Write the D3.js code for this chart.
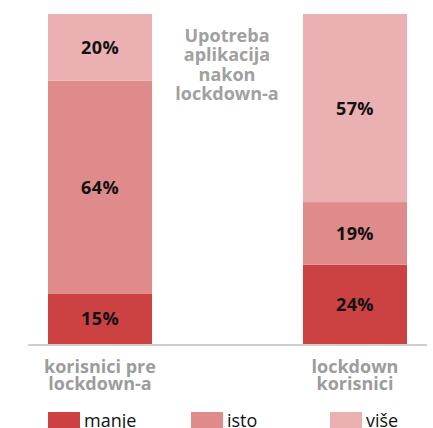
<!DOCTYPE html>
<html>
<head>
<meta charset="utf-8">
<script src="https://cdn.jsdelivr.net/npm/d3@7"></script>
<style>
  body { margin: 0; background: #fff; }
  svg { display: block; font-family: "Open Sans", sans-serif; }
</style>
</head>
<body>
<div id="chart"></div>
<script>
// categories (groups on the x axis)
const groups = ["korisnici pre|lockdown-a", "lockdown|korisnici"];
// series, bottom to top
const seriesKeys = ["manje", "isto", "više"];
const manje = [15, 24];
const isto = [64, 19];
const vise = [20, 57];
const titleLines = ["Upotreba", "aplikacija", "nakon", "lockdown-a"];

const colors = ["#cc4242", "#df8a8b", "#ebb1b2"];

const width = 433, height = 428;
const margin = { top: 14, bottom: 84 };

const data = groups.map((g, i) => ({ group: g, "manje": manje[i], "isto": isto[i], "više": vise[i] }));

const svg = d3.select("#chart").append("svg")
    .attr("width", width)
    .attr("height", height);

const xScale = d3.scaleBand()
    .domain(groups)
    .range([48, 407])
    .paddingInner(0.592)
    .paddingOuter(0);

const yScale = d3.scaleLinear()
    .domain([0, 1])
    .range([height - margin.bottom, margin.top]);

const colorScale = d3.scaleOrdinal().domain(seriesKeys).range(colors);

// each bar is normalised to fill the full height
const stacked = d3.stack().keys(seriesKeys).offset(d3.stackOffsetExpand)(data);

const layers = svg.selectAll(".layer")
    .data(stacked)
    .join("g")
    .attr("class", "layer")
    .attr("fill", d => colorScale(d.key));

layers.selectAll("rect")
    .data(d => d.map(v => Object.assign(v, { key: d.key })))
    .join("rect")
    .attr("x", d => xScale(d.data.group))
    .attr("width", xScale.bandwidth())
    .attr("y", d => yScale(d[1]))
    .attr("height", d => yScale(d[0]) - yScale(d[1]));

layers.selectAll("text")
    .data(d => d)
    .join("text")
    .attr("x", d => xScale(d.data.group) + xScale.bandwidth() / 2)
    .attr("y", d => (yScale(d[0]) + yScale(d[1])) / 2)
    .attr("dy", "0.36em")
    .attr("text-anchor", "middle")
    .attr("fill", "#111")
    .attr("font-size", "18px")
    .attr("font-weight", "bold")
    .attr("letter-spacing", "0.4px")
    .text(d => d.data[d.key] + "%");

// baseline
svg.append("line")
    .attr("x1", 28).attr("x2", 427)
    .attr("y1", yScale(0) + 1).attr("y2", yScale(0) + 1)
    .attr("stroke", "#cfcfcf")
    .attr("stroke-width", 2);

// category labels
svg.selectAll(".cat-label")
    .data(groups)
    .join("text")
    .attr("class", "cat-label")
    .attr("x", d => xScale(d) + xScale.bandwidth() / 2)
    .attr("y", 373)
    .attr("text-anchor", "middle")
    .attr("fill", "#9c9c9c")
    .attr("font-size", "18px")
    .attr("font-weight", "bold")
    .selectAll("tspan")
    .data(d => d.split("|"))
    .join("tspan")
    .attr("x", function() { return this.parentNode.getAttribute("x"); })
    .attr("dy", (d, i) => i === 0 ? 0 : 17)
    .text(d => d);

// title in the middle
svg.append("text")
    .attr("x", 227)
    .attr("y", 42)
    .attr("text-anchor", "middle")
    .attr("fill", "#a0a0a0")
    .attr("font-size", "18px")
    .attr("font-weight", "bold")
    .selectAll("tspan")
    .data(titleLines)
    .join("tspan")
    .attr("x", 227)
    .attr("dy", (d, i) => i === 0 ? 0 : 19.3)
    .text(d => d);

// legend
const legendX = [48, 191, 330];
const legend = svg.selectAll(".legend")
    .data(seriesKeys)
    .join("g")
    .attr("class", "legend")
    .attr("transform", (d, i) => `translate(${legendX[i]},412)`);

legend.append("rect")
    .attr("width", 32)
    .attr("height", 16)
    .attr("fill", d => colorScale(d));

legend.append("text")
    .attr("x", 36)
    .attr("y", 15)
    .attr("fill", "#111")
    .attr("font-size", "18px")
    .text(d => d);
</script>
</body>
</html>
